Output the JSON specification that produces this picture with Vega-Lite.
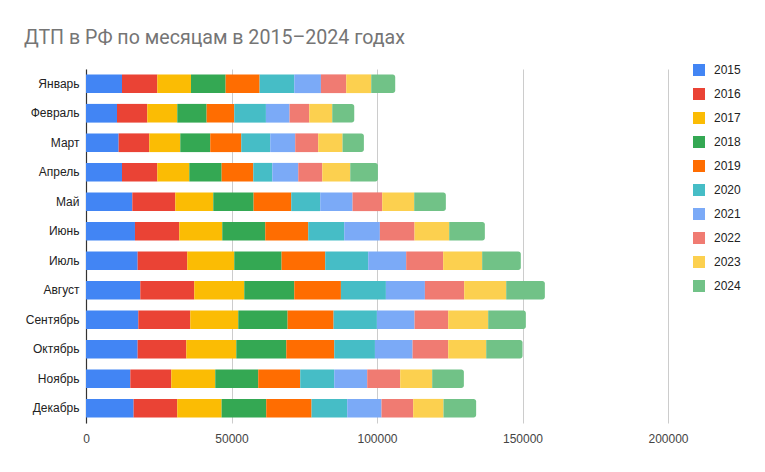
{
  "$schema": "https://vega.github.io/schema/vega-lite/v6.json",
  "autosize": "none",
  "width": 582,
  "height": 354,
  "padding": {"left": 86, "top": 69, "right": 97, "bottom": 49},
  "background": "white",
  "title": {
    "text": "ДТП в РФ по месяцам в 2015–2024 годах",
    "anchor": "start",
    "frame": "group",
    "font": "Roboto",
    "fontSize": 19.6,
    "fontWeight": "normal",
    "color": "#757575",
    "dx": -62,
    "offset": 15
  },
  "data": {
    "values": [
      {"month": "Январь", "year": "2015", "value": 12370}, {"month": "Январь", "year": "2016", "value": 12140}, {"month": "Январь", "year": "2017", "value": 11560}, {"month": "Январь", "year": "2018", "value": 11910}, {"month": "Январь", "year": "2019", "value": 11680}, {"month": "Январь", "year": "2020", "value": 11910}, {"month": "Январь", "year": "2021", "value": 9160}, {"month": "Январь", "year": "2022", "value": 8700}, {"month": "Январь", "year": "2023", "value": 8590}, {"month": "Январь", "year": "2024", "value": 8240},
      {"month": "Февраль", "year": "2015", "value": 10650}, {"month": "Февраль", "year": "2016", "value": 10420}, {"month": "Февраль", "year": "2017", "value": 10300}, {"month": "Февраль", "year": "2018", "value": 10080}, {"month": "Февраль", "year": "2019", "value": 9500}, {"month": "Февраль", "year": "2020", "value": 10880}, {"month": "Февраль", "year": "2021", "value": 8130}, {"month": "Февраль", "year": "2022", "value": 6760}, {"month": "Февраль", "year": "2023", "value": 7900}, {"month": "Февраль", "year": "2024", "value": 7560},
      {"month": "Март", "year": "2015", "value": 11220}, {"month": "Март", "year": "2016", "value": 10530}, {"month": "Март", "year": "2017", "value": 10650}, {"month": "Март", "year": "2018", "value": 10300}, {"month": "Март", "year": "2019", "value": 10650}, {"month": "Март", "year": "2020", "value": 9960}, {"month": "Март", "year": "2021", "value": 8590}, {"month": "Март", "year": "2022", "value": 7900}, {"month": "Март", "year": "2023", "value": 8360}, {"month": "Март", "year": "2024", "value": 7330},
      {"month": "Апрель", "year": "2015", "value": 12370}, {"month": "Апрель", "year": "2016", "value": 12140}, {"month": "Апрель", "year": "2017", "value": 10990}, {"month": "Апрель", "year": "2018", "value": 11110}, {"month": "Апрель", "year": "2019", "value": 10880}, {"month": "Апрель", "year": "2020", "value": 6530}, {"month": "Апрель", "year": "2021", "value": 8930}, {"month": "Апрель", "year": "2022", "value": 8240}, {"month": "Апрель", "year": "2023", "value": 9620}, {"month": "Апрель", "year": "2024", "value": 9500},
      {"month": "Май", "year": "2015", "value": 15920}, {"month": "Май", "year": "2016", "value": 14770}, {"month": "Май", "year": "2017", "value": 13050}, {"month": "Май", "year": "2018", "value": 13850}, {"month": "Май", "year": "2019", "value": 12940}, {"month": "Май", "year": "2020", "value": 9960}, {"month": "Май", "year": "2021", "value": 11110}, {"month": "Май", "year": "2022", "value": 10190}, {"month": "Май", "year": "2023", "value": 10990}, {"month": "Май", "year": "2024", "value": 10880},
      {"month": "Июнь", "year": "2015", "value": 16830}, {"month": "Июнь", "year": "2016", "value": 15230}, {"month": "Июнь", "year": "2017", "value": 14770}, {"month": "Июнь", "year": "2018", "value": 14770}, {"month": "Июнь", "year": "2019", "value": 14770}, {"month": "Июнь", "year": "2020", "value": 12370}, {"month": "Июнь", "year": "2021", "value": 12250}, {"month": "Июнь", "year": "2022", "value": 11910}, {"month": "Июнь", "year": "2023", "value": 11910}, {"month": "Июнь", "year": "2024", "value": 12250},
      {"month": "Июль", "year": "2015", "value": 17750}, {"month": "Июль", "year": "2016", "value": 17060}, {"month": "Июль", "year": "2017", "value": 16140}, {"month": "Июль", "year": "2018", "value": 16260}, {"month": "Июль", "year": "2019", "value": 15000}, {"month": "Июль", "year": "2020", "value": 14770}, {"month": "Июль", "year": "2021", "value": 13050}, {"month": "Июль", "year": "2022", "value": 12710}, {"month": "Июль", "year": "2023", "value": 13400}, {"month": "Июль", "year": "2024", "value": 13280},
      {"month": "Август", "year": "2015", "value": 18660}, {"month": "Август", "year": "2016", "value": 18550}, {"month": "Август", "year": "2017", "value": 17180}, {"month": "Август", "year": "2018", "value": 17180}, {"month": "Август", "year": "2019", "value": 16030}, {"month": "Август", "year": "2020", "value": 15460}, {"month": "Август", "year": "2021", "value": 13400}, {"month": "Август", "year": "2022", "value": 13510}, {"month": "Август", "year": "2023", "value": 14430}, {"month": "Август", "year": "2024", "value": 13280},
      {"month": "Сентябрь", "year": "2015", "value": 17980}, {"month": "Сентябрь", "year": "2016", "value": 17860}, {"month": "Сентябрь", "year": "2017", "value": 16490}, {"month": "Сентябрь", "year": "2018", "value": 16950}, {"month": "Сентябрь", "year": "2019", "value": 15800}, {"month": "Сентябрь", "year": "2020", "value": 14890}, {"month": "Сентябрь", "year": "2021", "value": 12940}, {"month": "Сентябрь", "year": "2022", "value": 11560}, {"month": "Сентябрь", "year": "2023", "value": 13740}, {"month": "Сентябрь", "year": "2024", "value": 12940},
      {"month": "Октябрь", "year": "2015", "value": 17750}, {"month": "Октябрь", "year": "2016", "value": 16720}, {"month": "Октябрь", "year": "2017", "value": 17180}, {"month": "Октябрь", "year": "2018", "value": 17180}, {"month": "Октябрь", "year": "2019", "value": 16490}, {"month": "Октябрь", "year": "2020", "value": 13970}, {"month": "Октябрь", "year": "2021", "value": 12940}, {"month": "Октябрь", "year": "2022", "value": 12250}, {"month": "Октябрь", "year": "2023", "value": 13050}, {"month": "Октябрь", "year": "2024", "value": 12480},
      {"month": "Ноябрь", "year": "2015", "value": 15230}, {"month": "Ноябрь", "year": "2016", "value": 14080}, {"month": "Ноябрь", "year": "2017", "value": 15110}, {"month": "Ноябрь", "year": "2018", "value": 14770}, {"month": "Ноябрь", "year": "2019", "value": 14430}, {"month": "Ноябрь", "year": "2020", "value": 11680}, {"month": "Ноябрь", "year": "2021", "value": 11340}, {"month": "Ноябрь", "year": "2022", "value": 11340}, {"month": "Ноябрь", "year": "2023", "value": 10990}, {"month": "Ноябрь", "year": "2024", "value": 10880},
      {"month": "Декабрь", "year": "2015", "value": 16370}, {"month": "Декабрь", "year": "2016", "value": 15000}, {"month": "Декабрь", "year": "2017", "value": 15230}, {"month": "Декабрь", "year": "2018", "value": 15340}, {"month": "Декабрь", "year": "2019", "value": 15570}, {"month": "Декабрь", "year": "2020", "value": 12250}, {"month": "Декабрь", "year": "2021", "value": 11790}, {"month": "Декабрь", "year": "2022", "value": 10880}, {"month": "Декабрь", "year": "2023", "value": 10420}, {"month": "Декабрь", "year": "2024", "value": 11220}
    ]
  },
  "transform": [
    {"stack": "value", "groupby": ["month"], "sort": [{"field": "year", "order": "ascending"}], "as": ["x0", "x1"]}
  ],
  "encoding": {
    "y": {
      "field": "month",
      "type": "nominal",
      "sort": ["Январь", "Февраль", "Март", "Апрель", "Май", "Июнь", "Июль", "Август", "Сентябрь", "Октябрь", "Ноябрь", "Декабрь"],
      "scale": {"paddingInner": 0.366, "paddingOuter": 0.183},
      "axis": {
        "title": null,
        "ticks": false,
        "tickSize": 0,
        "labelPadding": 7,
        "labelFont": "Liberation Sans",
        "labelFontSize": 12,
        "labelColor": "#222222",
        "domainColor": "#333333",
        "domainWidth": 1.2,
        "grid": false
      }
    },
    "x": {
      "field": "x0",
      "type": "quantitative",
      "scale": {"domain": [0, 200000], "nice": false},
      "axis": {
        "title": null,
        "values": [0, 50000, 100000, 150000, 200000],
        "format": "d",
        "ticks": false,
        "tickSize": 0,
        "labelPadding": 10,
        "labelFont": "Liberation Sans",
        "labelFontSize": 12,
        "labelColor": "#444444",
        "domain": false,
        "grid": true,
        "gridColor": "#cccccc",
        "labelFlush": false
      }
    },
    "x2": {"field": "x1"},
    "color": {
      "field": "year",
      "type": "nominal",
      "scale": {
        "domain": ["2015", "2016", "2017", "2018", "2019", "2020", "2021", "2022", "2023", "2024"],
        "range": ["#4285F4", "#EA4335", "#FBBC04", "#34A853", "#FF6D01", "#46BDC6", "#7BAAF7", "#F07B72", "#FCD04F", "#71C287"]
      },
      "legend": {
        "title": null,
        "orient": "none",
        "legendX": 607,
        "legendY": -5,
        "symbolType": "square",
        "symbolSize": 144,
        "symbolStrokeWidth": 0,
        "symbolOpacity": 1,
        "labelFont": "Liberation Sans",
        "labelFontSize": 12,
        "labelColor": "#222222",
        "labelOffset": 9,
        "rowPadding": 12
      }
    }
  },
  "layer": [
    {
      "transform": [{"filter": "datum.year != '2024'"}],
      "mark": {"type": "bar"}
    },
    {
      "transform": [{"filter": "datum.year == '2024'"}],
      "mark": {"type": "bar", "cornerRadiusTopRight": 2.5, "cornerRadiusBottomRight": 2.5}
    }
  ],
  "config": {
    "view": {"stroke": null}
  }
}
